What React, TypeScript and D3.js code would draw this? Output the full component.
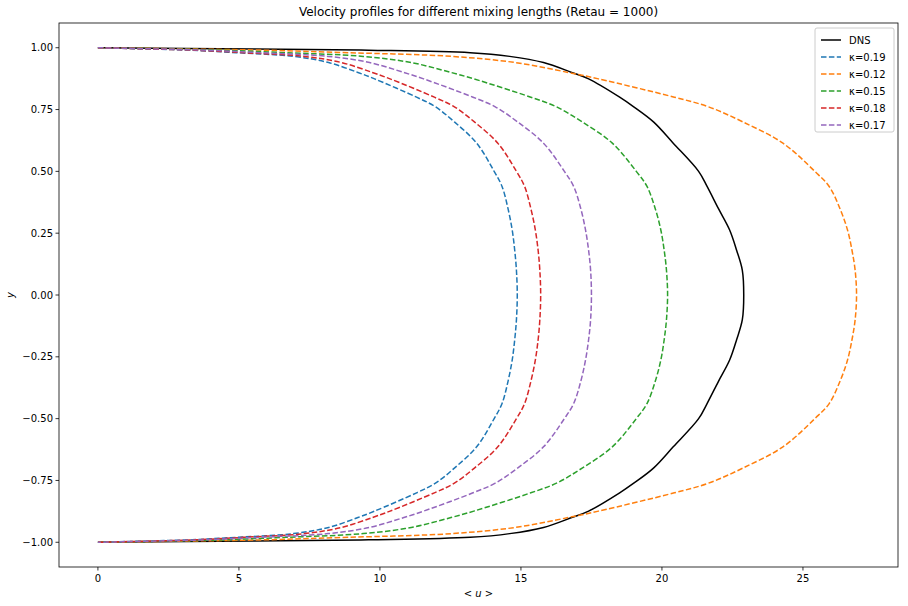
import * as d3 from 'd3'

// upper half grid of y, mirrored for the lower half (profiles are symmetric)
const yGrid = [1, 0.995, 0.99, 0.98, 0.965, 0.94, 0.9, 0.874, 0.8, 0.761, 0.7, 0.614, 0.5, 0.439, 0.35, 0.263, 0.18, 0.1, 0]

const dnsU = [0, 5.5, 9.6, 13.2, 14.6, 15.8, 16.8, 17.4, 18.5, 19.0, 19.7, 20.4, 21.3, 21.6, 22.0, 22.4, 22.65, 22.85, 22.9]
const k019 = [0, 1.78, 3.27, 4.91, 6.93, 8.18, 9.22, 9.81, 11.3, 11.97, 12.64, 13.43, 14.05, 14.33, 14.54, 14.69, 14.78, 14.84, 14.87]
const k012 = [0, 3.23, 5.92, 8.88, 12.54, 14.8, 16.68, 17.75, 20.44, 21.65, 22.87, 24.29, 25.42, 25.93, 26.31, 26.58, 26.74, 26.85, 26.9]
const k015 = [0, 2.42, 4.44, 6.67, 9.41, 11.11, 12.52, 13.33, 15.35, 16.26, 17.17, 18.24, 19.09, 19.47, 19.76, 19.96, 20.08, 20.16, 20.2]
const k018 = [0, 1.88, 3.45, 5.18, 7.32, 8.64, 9.73, 10.36, 11.93, 12.64, 13.35, 14.18, 14.84, 15.13, 15.35, 15.51, 15.61, 15.67, 15.7]
const k017 = [0, 2.1, 3.85, 5.78, 8.16, 9.63, 10.85, 11.55, 13.3, 14.09, 14.88, 15.8, 16.54, 16.87, 17.12, 17.29, 17.4, 17.47, 17.5]

const series = [
  { label: 'DNS', values: dnsU, color: '#000000', dashed: false },
  { label: 'κ=0.19', values: k019, color: '#1f77b4', dashed: true },
  { label: 'κ=0.12', values: k012, color: '#ff7f0e', dashed: true },
  { label: 'κ=0.15', values: k015, color: '#2ca02c', dashed: true },
  { label: 'κ=0.18', values: k018, color: '#d62728', dashed: true },
  { label: 'κ=0.17', values: k017, color: '#9467bd', dashed: true },
]

const xTicks = [0, 5, 10, 15, 20, 25]
const yTicks = [1, 0.75, 0.5, 0.25, 0, -0.25, -0.5, -0.75, -1]

const W = 908
const H = 606
const m = { left: 59, right: 10, top: 23, bottom: 39 }

export default function App() {
  const x = d3.scaleLinear().domain([-1.38, 28.37]).range([m.left, W - m.right])
  const y = d3.scaleLinear().domain([-1.1, 1.1]).range([H - m.bottom, m.top])
  const line = d3
    .line<[number, number]>()
    .x((d) => x(d[0]))
    .y((d) => y(d[1]))
    .curve(d3.curveCatmullRom)

  const pts = (vals: number[]): [number, number][] => {
    const upper = vals.map((u, i) => [u, yGrid[i]] as [number, number])
    const lower = vals
      .slice(0, -1)
      .map((u, i) => [u, -yGrid[i]] as [number, number])
      .reverse()
    return [...upper, ...lower]
  }

  const font = 'DejaVu Sans, sans-serif'
  return (
    <svg width={W} height={H} style={{ position: 'absolute', left: 0, top: 0, fontFamily: font }}>
      <rect width={W} height={H} fill="#fff" />
      <text x={(m.left + W - m.right) / 2} y={16} textAnchor="middle" fontSize={12}>
        Velocity profiles for different mixing lengths (Retau = 1000)
      </text>
      {series.map((s) => (
        <path
          key={s.label}
          d={line(pts(s.values)) || ''}
          fill="none"
          stroke={s.color}
          strokeWidth={1.5}
          strokeDasharray={s.dashed ? '5.5,2.4' : undefined}
        />
      ))}
      <rect
        x={m.left}
        y={m.top}
        width={W - m.left - m.right}
        height={H - m.top - m.bottom}
        fill="none"
        stroke="#000"
        strokeWidth={0.8}
      />
      {xTicks.map((t) => (
        <g key={t} transform={`translate(${x(t)},${H - m.bottom})`}>
          <line y2={3.5} stroke="#000" strokeWidth={0.8} />
          <text y={15} textAnchor="middle" fontSize={10}>{t}</text>
        </g>
      ))}
      {yTicks.map((t) => (
        <g key={t} transform={`translate(${m.left},${y(t)})`}>
          <line x2={-3.5} stroke="#000" strokeWidth={0.8} />
          <text x={-6} dy="0.35em" textAnchor="end" fontSize={10}>
            {t.toFixed(2).replace('-', '−')}
          </text>
        </g>
      ))}
      <text x={(m.left + W - m.right) / 2} y={H - 9} textAnchor="middle" fontSize={10} fontStyle="italic">
        {'< u >'}
      </text>
      <text transform={`translate(14,${(m.top + H - m.bottom) / 2}) rotate(-90)`} textAnchor="middle" fontSize={10} fontStyle="italic">
        y
      </text>
      <g transform="translate(815,28)">
        <rect width={79} height={104} rx={2} fill="#fff" fillOpacity={0.8} stroke="#ccc" />
        {series.map((s, i) => (
          <g key={s.label} transform={`translate(6,${12 + i * 17})`}>
            <line x2={20} stroke={s.color} strokeWidth={1.5} strokeDasharray={s.dashed ? '5.5,2.4' : undefined} />
            <text x={28} dy="0.35em" fontSize={10}>{s.label}</text>
          </g>
        ))}
      </g>
    </svg>
  )
}
